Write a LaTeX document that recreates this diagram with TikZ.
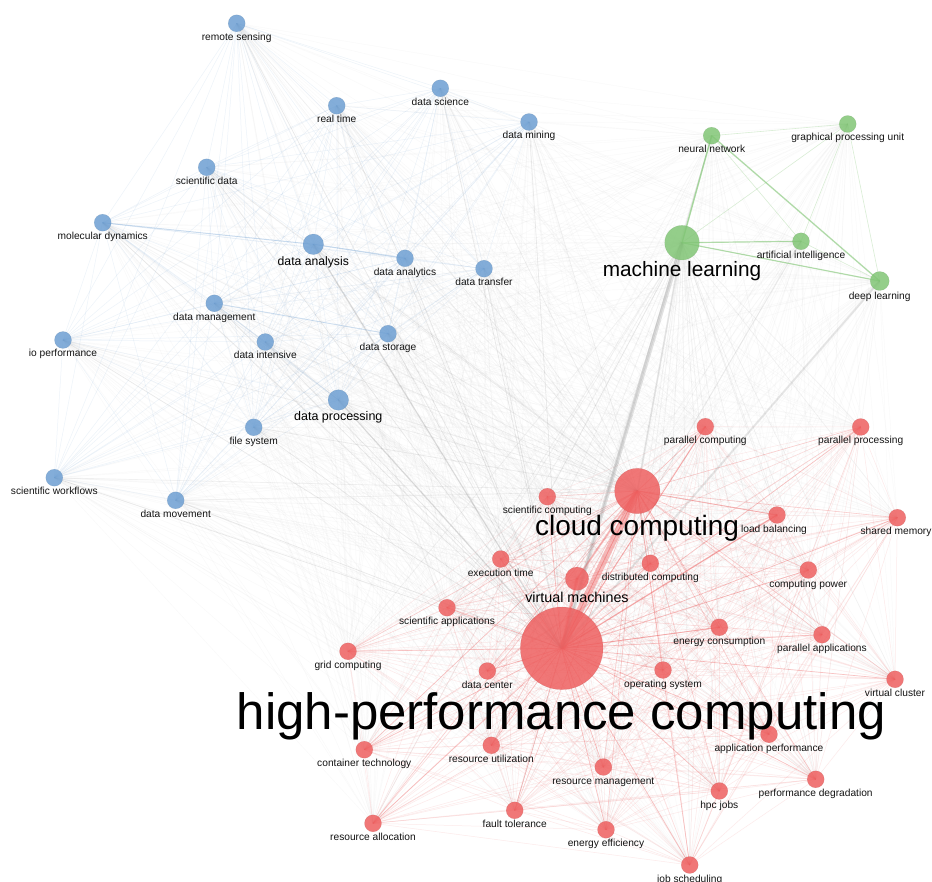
\documentclass[tikz,border=0pt]{standalone}
\usepackage{fontspec}
\setmainfont{Liberation Sans}
\pgfdeclarelayer{bg}
\pgfdeclarelayer{links}
\pgfsetlayers{bg,links,main}

\definecolor{vb}{RGB}{108,158,210}
\definecolor{vg}{RGB}{128,197,116}
\definecolor{vr}{RGB}{238,94,94}
\definecolor{vgray}{RGB}{150,150,150}

\tikzset{
  bub/.style 2 args={circle, inner sep=0pt, minimum size=#2, fill=#1,
    fill opacity=.84, draw=#1!75!black, draw opacity=.25, line width=.4pt},
  bl/.style={bub={vb}{#1}}, bl/.default=17pt,
  gr/.style={bub={vg}{#1}}, gr/.default=17pt,
  rd/.style={bub={vr}{#1}}, rd/.default=17pt,
  lbl/.style={inner sep=0pt, anchor=base, text=black!92,
    font=\fontsize{10.2}{12}\selectfont},
  big/.style={inner sep=0pt, anchor=base, text=black,
    font=\fontsize{#1}{#1}\selectfont},
  redE/.style={draw=vr, line width=.5pt, opacity=.13},
  bluE/.style={draw=vb, line width=.5pt, opacity=.12},
  grnE/.style={draw=vg, line width=.6pt, opacity=.3},
  grayE/.style={draw=vgray, line width=.45pt, opacity=.05},
  hubE/.style={draw=vgray, line width=.7pt, opacity=.16},
}

% every pair inside one cluster
\newcommand{\meshin}[2]{%
  \foreach \a [count=\i] in #1 {%
    \foreach \b [count=\j] in #1 {%
      \ifnum\j>\i \draw[#2] (\a.center) -- (\b.center);\fi
    }%
  }%
}
% every pair between two clusters
\newcommand{\meshx}[3]{%
  \foreach \a in #1 {%
    \foreach \b in #2 {%
      \draw[#3] (\a.center) -- (\b.center);
    }%
  }%
}

\begin{document}
\begin{tikzpicture}[x=1pt,y=-1pt]
\begin{pgfonlayer}{bg}
  \fill[white] (0,0) rectangle (932,882);
\end{pgfonlayer}
\useasboundingbox (0,0) rectangle (932,882);

% ---------- keywords: data cluster ----------
\node[bl] (remote)      at (236.7,23.3)  {};
\node[bl] (datasci)     at (440.3,88.3)  {};
\node[bl] (realtime)    at (336.7,105.7) {};
\node[bl] (mining)      at (529,122)     {};
\node[bl] (scidata)     at (206.7,167.3) {};
\node[bl] (moldyn)      at (102.7,222.7) {};
\node[bl=20.6pt] (danalysis) at (313.3,244.3) {};
\node[bl] (danalytics)  at (405,258.3)   {};
\node[bl] (dtransfer)   at (484,268.7)   {};
\node[bl] (dmgmt)       at (214.3,303.3) {};
\node[bl] (ioperf)      at (63,340)      {};
\node[bl] (dintensive)  at (265.3,342)   {};
\node[bl] (dstorage)    at (388,333.7)   {};
\node[bl=20.6pt] (dprocessing) at (338.3,400) {};
\node[bl] (filesys)     at (253.7,427.3) {};
\node[bl] (sciwork)     at (54.3,477.7)  {};
\node[bl] (dmovement)   at (175.7,500.3) {};

% ---------- keywords: learning cluster ----------
\node[gr] (neural)      at (711.7,135.7) {};
\node[gr] (gpu)         at (847.7,124)   {};
\node[gr=34.6pt] (ml)   at (682,242.7)   {};
\node[gr] (ai)          at (801,241.3)   {};
\node[gr=19pt] (deep)   at (879.7,281)   {};

% ---------- keywords: computing cluster ----------
\node[rd] (parcomp)     at (705.3,426.7) {};
\node[rd] (parproc)     at (860.7,427)   {};
\node[rd=45.4pt] (cloud) at (637.3,491)  {};
\node[rd] (scicomp)     at (547.3,496.7) {};
\node[rd] (loadbal)     at (777,515)     {};
\node[rd] (shmem)       at (897.3,517.7) {};
\node[rd] (exec)        at (500.7,559)   {};
\node[rd] (dist)        at (650.3,563.3) {};
\node[rd=23.4pt] (vm)   at (577,578.7)   {};
\node[rd] (cpower)      at (808.3,570)   {};
\node[rd] (sciapp)      at (447,607.7)   {};
\node[rd=82.6pt] (hpc)  at (561.7,648.3) {};
\node[rd] (econs)       at (719.3,627.3) {};
\node[rd] (parapp)      at (822,634.7)   {};
\node[rd] (grid)        at (348,651.3)   {};
\node[rd] (dcenter)     at (487.3,671)   {};
\node[rd] (opsys)       at (663,670)     {};
\node[rd] (vclus)       at (895,679.3)   {};
\node[rd] (appperf)     at (769,734.3)   {};
\node[rd] (container)   at (364.3,749.7) {};
\node[rd] (resutil)     at (491.3,745.3) {};
\node[rd] (resmgmt)     at (603.3,767)   {};
\node[rd] (perfdeg)     at (815.7,779.3) {};
\node[rd] (jobs)        at (719.3,791)   {};
\node[rd] (fault)       at (514.7,810.3) {};
\node[rd] (resalloc)    at (373,823.3)   {};
\node[rd] (eeff)        at (606,829.7)   {};
\node[rd] (jobsched)    at (689.7,865)   {};

\def\bluelist{remote,datasci,realtime,mining,scidata,moldyn,danalysis,danalytics,dtransfer,dmgmt,ioperf,dintensive,dstorage,dprocessing,filesys,sciwork,dmovement}
\def\greenlist{neural,gpu,ml,ai,deep}
\def\redlist{parcomp,parproc,cloud,scicomp,loadbal,shmem,exec,dist,vm,cpower,sciapp,hpc,econs,parapp,grid,dcenter,opsys,vclus,appperf,container,resutil,resmgmt,perfdeg,jobs,fault,resalloc,eeff,jobsched}

% ---------- co-occurrence links ----------
\begin{pgfonlayer}{links}
  \meshx{\bluelist}{\redlist}{grayE}
  \meshx{\greenlist}{\redlist}{grayE}
  \meshx{\greenlist}{\bluelist}{grayE}
  \meshin{\bluelist}{bluE}
  \meshin{\redlist}{redE}
  \meshin{\greenlist}{grnE}
  \foreach \b in \bluelist {\draw[hubE] (hpc.center) -- (\b.center);}
  \foreach \b in \bluelist {\draw[hubE, opacity=.1] (cloud.center) -- (\b.center);}
  \foreach \b in \redlist {\draw[hubE, opacity=.08] (ml.center) -- (\b.center);}
  \foreach \b in \redlist {\draw[redE, opacity=.3, line width=.7pt] (hpc.center) -- (\b.center);}
  \foreach \b in \redlist {\draw[redE, opacity=.22, line width=.6pt] (cloud.center) -- (\b.center);}
  % strongest links
  \draw[draw=vr, opacity=.42, line width=7pt]  (hpc.center) -- (cloud.center);
  \draw[draw=vgray, opacity=.28, line width=4pt] (hpc.center) -- (ml.center);
  \draw[draw=vr, opacity=.38, line width=3pt]  (hpc.center) -- (vm.center);
  \draw[draw=vr, opacity=.32, line width=2pt]  (cloud.center) -- (vm.center);
  \draw[draw=vgray, opacity=.22, line width=2pt] (hpc.center) -- (deep.center);
  \draw[draw=vgray, opacity=.2, line width=1.8pt] (cloud.center) -- (ml.center);
  \draw[draw=vgray, opacity=.2, line width=1.4pt] (hpc.center) -- (danalysis.center);
  \draw[draw=vgray, opacity=.2, line width=1.4pt] (hpc.center) -- (dprocessing.center);
  \draw[draw=vgray, opacity=.15, line width=1pt] (hpc.center) -- (ai.center);
  \draw[draw=vgray, opacity=.15, line width=1pt] (hpc.center) -- (neural.center);
  \draw[draw=vg, opacity=.6, line width=1.5pt] (ml.center) -- (neural.center);
  \draw[draw=vg, opacity=.5, line width=1.2pt] (ml.center) -- (ai.center);
  \draw[draw=vg, opacity=.5, line width=1.2pt] (ml.center) -- (deep.center);
  \draw[draw=vg, opacity=.5, line width=1.4pt] (neural.center) -- (deep.center);
  \draw[draw=vb, opacity=.3, line width=1pt]   (moldyn.center) -- (danalysis.center);
  \draw[draw=vb, opacity=.3, line width=1.1pt] (danalysis.center) -- (danalytics.center);
  \draw[draw=vb, opacity=.25, line width=1pt]  (dmgmt.center) -- (dstorage.center);
  \draw[draw=vr, opacity=.3, line width=1.4pt] (hpc.center) -- (loadbal.center);
  \draw[draw=vr, opacity=.25, line width=1.1pt] (cloud.center) -- (loadbal.center);
  \draw[draw=vr, opacity=.25, line width=1pt]  (hpc.center) -- (parcomp.center);
  \draw[draw=vr, opacity=.25, line width=1pt]  (hpc.center) -- (econs.center);
\end{pgfonlayer}

% ---------- labels ----------
\node[lbl] (remote-l)     at (236.7,40.3)  {remote sensing};
\node[lbl] (datasci-l)    at (440.3,105.3) {data science};
\node[lbl] (realtime-l)   at (336.7,122.7) {real time};
\node[lbl] (mining-l)     at (529,139)     {data mining};
\node[lbl] (scidata-l)    at (206.7,184.3) {scientific data};
\node[lbl] (moldyn-l)     at (102.7,239.7) {molecular dynamics};
\node[big=12.2] (danalysis-l) at (313.3,265.7) {data analysis};
\node[lbl] (danalytics-l) at (405,275.3)   {data analytics};
\node[lbl] (dtransfer-l)  at (484,285.7)   {data transfer};
\node[lbl] (dmgmt-l)      at (214.3,320.3) {data management};
\node[lbl] (ioperf-l)     at (63,357)      {io performance};
\node[lbl] (dintensive-l) at (265.3,359)   {data intensive};
\node[lbl] (dstorage-l)   at (388,350.7)   {data storage};
\node[big=12.5] (dprocessing-l) at (338.3,420.7) {data processing};
\node[lbl] (filesys-l)    at (253.7,444.3) {file system};
\node[lbl] (sciwork-l)    at (54.3,494.7)  {scientific workflows};
\node[lbl] (dmovement-l)  at (175.7,517.3) {data movement};

\node[lbl] (neural-l)     at (711.7,152.7) {neural network};
\node[lbl] (gpu-l)        at (847.7,141)   {graphical processing unit};
\node[big=20.8] (ml-l)    at (682,276.7)   {machine learning};
\node[lbl] (ai-l)         at (801,258.3)   {artificial intelligence};
\node[lbl] (deep-l)       at (879.7,300)   {deep learning};

\node[lbl] (parcomp-l)    at (705.3,443.7) {parallel computing};
\node[lbl] (parproc-l)    at (860.7,444)   {parallel processing};
\node[lbl] (scicomp-l)    at (547.3,513.7) {scientific computing};
\node[big=28] (cloud-l)   at (637,535)     {cloud computing};
\node[lbl] (loadbal-l)    at (774,532)     {load balancing};
\node[lbl] (shmem-l)      at (896,534.7)   {shared memory};
\node[lbl] (exec-l)       at (500.7,576)   {execution time};
\node[lbl] (dist-l)       at (650.3,580.3) {distributed computing};
\node[lbl] (cpower-l)     at (808.3,587)   {computing power};
\node[big=14.3] (vm-l)    at (577,602)     {virtual machines};
\node[lbl] (sciapp-l)     at (447,624.7)   {scientific applications};
\node[lbl] (econs-l)      at (719.3,644.3) {energy consumption};
\node[lbl] (parapp-l)     at (822,651.7)   {parallel applications};
\node[lbl] (grid-l)       at (348,668.3)   {grid computing};
\node[lbl] (dcenter-l)    at (487.3,688)   {data center};
\node[lbl] (opsys-l)      at (663,687)     {operating system};
\node[lbl] (vclus-l)      at (895,696.3)   {virtual cluster};
\node[big=51] (hpc-l)     at (561.3,729)   {high-performance computing};
\node[lbl] (appperf-l)    at (769,751.3)   {application performance};
\node[lbl] (container-l)  at (364.3,766.7) {container technology};
\node[lbl] (resutil-l)    at (491.3,762.3) {resource utilization};
\node[lbl] (resmgmt-l)    at (603.3,784)   {resource management};
\node[lbl] (perfdeg-l)    at (815.7,796.3) {performance degradation};
\node[lbl] (jobs-l)       at (719.3,808)   {hpc jobs};
\node[lbl] (fault-l)      at (514.7,827.3) {fault tolerance};
\node[lbl] (resalloc-l)   at (373,840.3)   {resource allocation};
\node[lbl] (eeff-l)       at (606,846.7)   {energy efficiency};
\node[lbl] (jobsched-l)   at (689.7,882)   {job scheduling};
\end{tikzpicture}
\end{document}
